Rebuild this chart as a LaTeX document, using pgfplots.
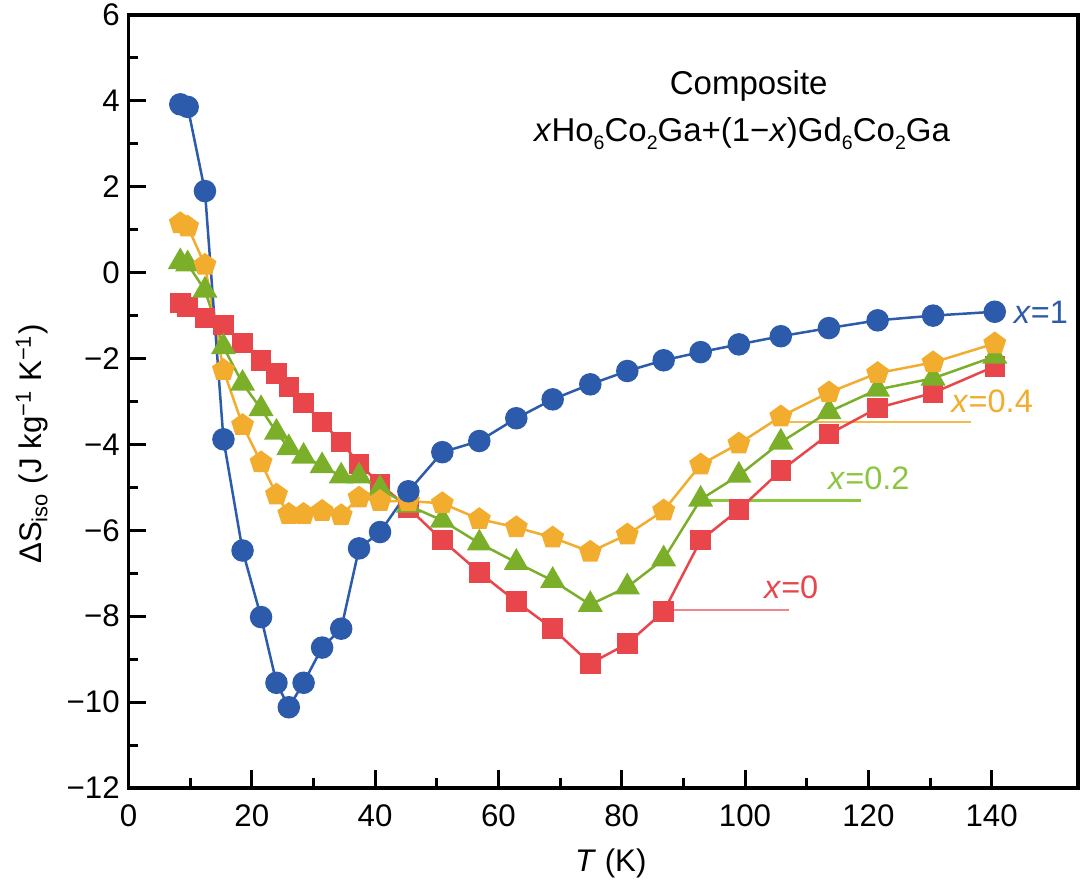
\documentclass[border=0pt]{standalone}
\usepackage{fontspec}
\setmainfont{Liberation Sans}
\usepackage{pgfplots}
\usepackage{pgfplotstable}
\pgfplotsset{compat=1.18}
\usetikzlibrary{calc,plotmarks}

\definecolor{cblue}{HTML}{2B5BAA}
\definecolor{cred}{HTML}{E8464B}
\definecolor{cgreen}{HTML}{7BAF2A}
\definecolor{corange}{HTML}{F2AC2E}
\definecolor{lred}{HTML}{F0868B}
\definecolor{lgreen}{HTML}{8CC63F}
\definecolor{lorange}{HTML}{F5B84A}

% low, small subscript for the chemical formula
\newcommand\chemsub[1]{\raisebox{-3pt}{\fontsize{7.8}{9}\selectfont #1}}

% Isothermal entropy change of the composites
\pgfplotstableread{
T     xa     xb     xc     xd
8.4   -0.71   0.25   1.15   3.92
9.6   -0.80   0.20   1.07   3.86
12.4  -1.06  -0.41   0.18   1.90
15.4  -1.22  -1.73  -2.27  -3.88
18.5  -1.64  -2.58  -3.55  -6.47
21.5  -2.04  -3.17  -4.42  -8.02
24.0  -2.35  -3.72  -5.17  -9.55
26.0  -2.66  -4.08  -5.62 -10.12
28.4  -3.04  -4.28  -5.62  -9.55
31.4  -3.48  -4.50  -5.55  -8.73
34.5  -3.94  -4.74  -5.65  -8.29
37.4  -4.45  -4.74  -5.24  -6.42
40.8  -4.92  -5.03  -5.32  -6.04
45.4  -5.48  -5.42  -5.32  -5.09
50.9  -6.23  -5.77  -5.37  -4.18
56.9  -6.98  -6.30  -5.74  -3.92
62.9  -7.66  -6.75  -5.93  -3.39
68.8  -8.29  -7.17  -6.17  -2.95
74.9  -9.10  -7.73  -6.50  -2.60
80.9  -8.64  -7.32  -6.10  -2.29
86.8  -7.89  -6.67  -5.54  -2.04
92.8  -6.23  -5.28  -4.47  -1.85
99.0  -5.52  -4.72  -3.98  -1.67
105.8 -4.61  -3.95  -3.35  -1.48
113.6 -3.76  -3.24  -2.79  -1.29
121.5 -3.15  -2.72  -2.34  -1.11
130.5 -2.80  -2.46  -2.09  -1.00
140.5 -2.18  -1.95  -1.65  -0.91
}\entropy

\begin{document}
\begin{tikzpicture}
\begin{axis}[
  name=plotarea,
  scale only axis, width=379.8pt, height=309.2pt,
  xmin=0, xmax=154, ymin=-12, ymax=6,
  axis line style={line width=1.4pt},
  tick align=inside, xtick pos=bottom, ytick pos=left,
  xtick={0,20,...,140}, xticklabels={0,20,40,60,80,100,120,140},
  ytick={-12,-10,...,6}, yticklabels={−12,−10,−8,−6,−4,−2,0,2,4,6},
  minor x tick num=1, minor y tick num=1,
  major tick length=7.2pt, minor tick length=4pt,
  every tick/.style={black, line width=1.2pt},
  tick label style={font=\fontsize{12.5}{14}\selectfont},
  xticklabel style={yshift=-3pt},
  label style={font=\fontsize{12.5}{14}\selectfont},
  xlabel={\textit{T} (K)},
  xlabel style={at={(axis description cs:0.508,0)}, anchor=center, yshift=-30pt},
  ylabel={ΔS\textsubscript{iso} (J kg\textsuperscript{−1} K\textsuperscript{−1})},
  ylabel style={at={(axis description cs:-0.1016,0.445)}, anchor=center},
  clip=false,
]
% guide lines to the series labels
\addplot[lred, line width=1pt] coordinates {(87.4,-7.86) (107.1,-7.86)};
\addplot[lgreen, line width=1pt] coordinates {(92.8,-5.30) (118.8,-5.30)};
\addplot[lorange, line width=1pt] coordinates {(105.8,-3.48) (136.7,-3.48)};

\addplot[cred, line width=1pt, mark=square*, mark size=3.6pt,
  mark options={fill=cred, draw=cred}] table[x=T, y=xa] {\entropy};
\addplot[cgreen, line width=1pt, mark=triangle*, mark size=4.8pt,
  mark options={fill=cgreen, draw=cgreen}] table[x=T, y=xb] {\entropy};
\addplot[corange, line width=1pt, mark=pentagon*, mark size=4.2pt,
  mark options={fill=corange, draw=corange}] table[x=T, y=xc] {\entropy};
\addplot[cblue, line width=1pt, mark=*, mark size=4pt,
  mark options={fill=cblue, draw=cblue}] table[x=T, y=xd] {\entropy};

\node[font=\fontsize{13.2}{15}\selectfont, anchor=base] at (axis cs:100.6,4.14) {Composite};
\node[font=\fontsize{13.2}{15}\selectfont, anchor=base] at (axis cs:99.5,3.05)
  {\textit{x}Ho\chemsub{6}Co\chemsub{2}Ga+(1−\textit{x})Gd\chemsub{6}Co\chemsub{2}Ga};

\node[font=\fontsize{13}{15}\selectfont, anchor=west, inner sep=0pt, text=cblue] at (axis cs:143.5,-0.92) {\textit{x}=1};
\node[font=\fontsize{13}{15}\selectfont, anchor=west, inner sep=0pt, text=corange] at (axis cs:133.4,-2.99) {\textit{x}=0.4};
\node[font=\fontsize{13}{15}\selectfont, anchor=west, inner sep=0pt, text=lgreen] at (axis cs:113.4,-4.79) {\textit{x}=0.2};
\node[font=\fontsize{13}{15}\selectfont, anchor=west, inner sep=0pt, text=cred] at (axis cs:103.0,-7.33) {\textit{x}=0};
\end{axis}
\pgfresetboundingbox
\path[use as bounding box] ($(plotarea.south west)+(-51.4pt,-39.2pt)$) rectangle ($(plotarea.north east)+(0.8pt,6pt)$);
\end{tikzpicture}
\end{document}
